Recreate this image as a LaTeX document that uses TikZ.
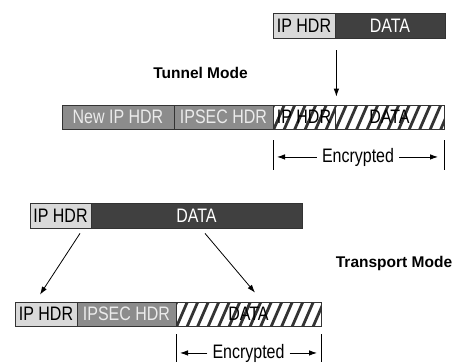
\documentclass[tikz,border=0pt]{standalone}
\usepackage{fontspec}
\setmainfont{Liberation Sans}[FakeStretch=0.82]
\newfontfamily\lblfont{Liberation Sans}
\usetikzlibrary{calc,arrows.meta}
\definecolor{lightg}{HTML}{D9D9D9}
\definecolor{darkg}{HTML}{404040}
\definecolor{midg}{HTML}{8C8C8C}
\begin{document}
\begin{tikzpicture}[x=1pt,y=-1pt,
  pk/.style={draw=black!80, line width=0.8pt, inner sep=0pt, minimum height=25pt, font=\fontsize{19.5}{21}\selectfont},
  lt/.style={pk, fill=lightg, text=black},
  dk/.style={pk, fill=darkg, text=white},
  md/.style={pk, fill=midg, text=white!92!black},
  ht/.style={pk, fill=white, text=black, path picture={\foreach \i in {-5,...,18} \draw[line width=2.8pt] ($(path picture bounding box.south west)+(\i*10.5pt,-2pt)$) -- ++(13pt,30pt);}},
  lbl/.style={font=\lblfont\bfseries\fontsize{15.5}{17}\selectfont, inner sep=0pt},
  enc/.style={font=\fontsize{19.5}{21}\selectfont, inner sep=5pt, anchor=base},
  arr/.style={-{Latex[length=8pt,width=5.5pt]}, line width=0.8pt},
  brk/.style={line width=0.8pt}]
\useasboundingbox (0,0) rectangle (455,362);
\fill[white] (0,0) rectangle (455,362);

% Tunnel mode
\node[lt, minimum width=62pt]  (tip)  at (304,25.5) {IP HDR};
\node[dk, minimum width=110pt] (tdat) at (390,25.5) {DATA};
\node[lbl] (tlbl) at (200.5,73) {Tunnel Mode};
\node[md, minimum width=112pt, minimum height=24pt] (nip)  at (118,117) {New IP HDR};
\node[md, minimum width=99pt,  minimum height=24pt] (tsec) at (223.5,117) {IPSEC HDR};
\node[ht, minimum width=62pt,  minimum height=24pt] (hip)  at (304,117) {IP HDR};
\node[ht, minimum width=109pt, minimum height=24pt] (hdat) at (389.5,117) {DATA};
\draw[arr] ([shift={(1pt,-12pt)}]tip.south east) -- ([shift={(1pt,8pt)}]hip.north east);

\coordinate (b1t) at (273,140); \coordinate (b1b) at (273,170);
\coordinate (b2t) at (444,140); \coordinate (b2b) at (444,170);
\draw[brk] (b1t) -- (b1b);
\draw[brk] (b2t) -- (b2b);
\node[enc] (e1) at (358,162) {Encrypted};
\draw[arr, shorten >=4pt] (e1.west) -- (e1.west -| b1t);
\draw[arr, shorten >=6pt] (e1.east) -- (e1.east -| b2t);

% Transport mode
\node[lt, minimum width=61pt]  (ip2)  at (60.5,215.5) {IP HDR};
\node[dk, minimum width=211pt] (dat2) at (196.5,215.5) {DATA};
\node[lbl] (plbl) at (394,263) {Transport Mode};
\node[lt, minimum width=62pt, minimum height=24pt] (ip3)  at (46,314) {IP HDR};
\node[md, minimum width=99pt, minimum height=24pt] (sec3) at (126.5,314) {IPSEC HDR};
\node[ht, minimum width=145pt, minimum height=24pt] (dat3) at (248.5,314) {DATA};
\draw[arr] ([shift={(19.5pt,-5pt)}]ip2.south) -- ([shift={(-6pt,7pt)}]ip3.north);
\draw[arr] ([shift={(8.5pt,-5pt)}]dat2.south) -- ([shift={(6.5pt,9pt)}]dat3.north);

\coordinate (c1t) at (176,334); \coordinate (c1b) at (176,362);
\coordinate (c2t) at (321,334); \coordinate (c2b) at (321,362);
\draw[brk] (c1t) -- (c1b);
\draw[brk] (c2t) -- (c2b);
\node[enc] (e2) at (248.5,358) {Encrypted};
\draw[arr, shorten >=4pt] (e2.west) -- (e2.west -| c1t);
\draw[arr, shorten >=4pt] (e2.east) -- (e2.east -| c2t);
\end{tikzpicture}
\end{document}
